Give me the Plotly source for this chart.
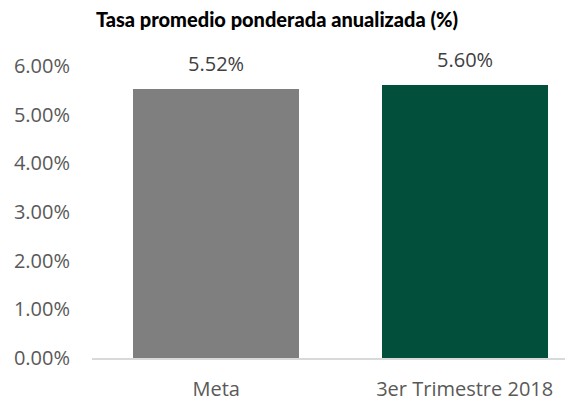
import plotly.graph_objects as go

categories = ["Meta", "3er Trimestre 2018"]
values = [5.52, 5.60]
labels = ["5.52%", "5.60%"]
colors = ["#7f7f7f", "#024f3b"]
tick_vals = [0, 1, 2, 3, 4, 5, 6]
tick_text = ["0.00%", "1.00%", "2.00%", "3.00%", "4.00%", "5.00%", "6.00%"]

# page body has an 8px default margin; figure is sized to fill the rest
W, H = 565, 393

fig = go.Figure(go.Bar(
    x=[0, 1], y=values, width=0.668,
    marker=dict(color=colors, line=dict(width=0)),
    hoverinfo="skip",
))

for i, (v, t) in enumerate(zip(values, labels)):
    fig.add_annotation(x=i, y=v, text=t, showarrow=False, yanchor="bottom",
                       yshift=10, font=dict(family="Open Sans", size=20, color="#404040"))

fig.update_layout(
    width=W, height=H,
    margin=dict(l=84, r=0, t=58, b=43),
    paper_bgcolor="white", plot_bgcolor="white",
    showlegend=False,
    title=dict(text="Tasa promedio ponderada anualizada (%)",
               x=269/W, xanchor="center", y=1-12/H, yanchor="middle",
               font=dict(family="Lato", size=20, color="#000000", weight=900)),
    xaxis=dict(range=[-0.5, 1.436], tickvals=[0, 1], ticktext=categories,
               showgrid=False, zeroline=False, showline=True, automargin=False,
               linecolor="#d9d9d9", linewidth=2, ticks="", ticklabelstandoff=12,
               tickfont=dict(family="Open Sans", size=20, color="#595959")),
    yaxis=dict(range=[0, 6], tickvals=tick_vals, ticktext=tick_text, automargin=False,
               showgrid=False, zeroline=False, showline=False, ticks="",
               ticklabelstandoff=21,
               tickfont=dict(family="Open Sans", size=20, color="#595959")),
    bargap=0,
)

fig.write_html("out.html")
